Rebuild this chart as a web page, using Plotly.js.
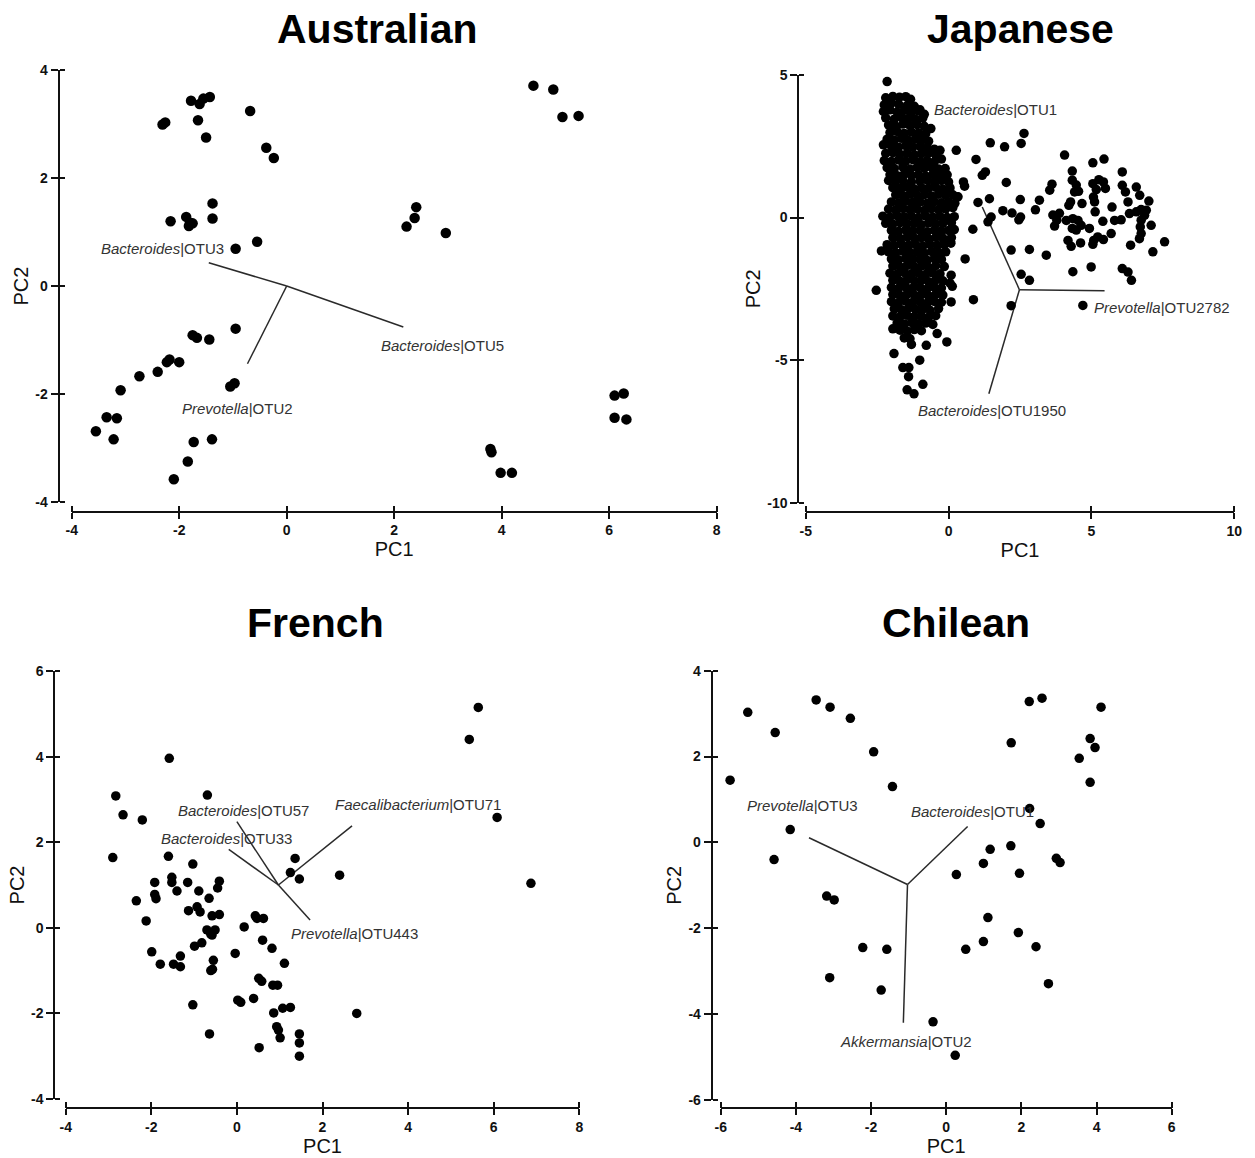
<!DOCTYPE html>
<html>
<head>
<meta charset="utf-8">
<script src="https://cdn.plot.ly/plotly-3.0.1.min.js"></script>
<style>html,body{margin:0;padding:0;background:#fff;}#chart{width:1255px;height:1158px;}</style>
</head>
<body>
<div id="chart"></div>
<script>
// ---------------- DATA ----------------
const panelTitles = ["Australian", "Japanese", "French", "Chilean"];

// tick labels
const auXTicks = ["-4", "-2", "0", "2", "4", "6", "8"];
const auYTicks = ["-4", "-2", "0", "2", "4"];
const jpXTicks = ["-5", "0", "5", "10"];
const jpYTicks = ["-10", "-5", "0", "5"];
const frXTicks = ["-4", "-2", "0", "2", "4", "6", "8"];
const frYTicks = ["-4", "-2", "0", "2", "4", "6"];
const clXTicks = ["-6", "-4", "-2", "0", "2", "4", "6"];
const clYTicks = ["-6", "-4", "-2", "0", "2", "4"];

// Australian
const auX = [-1.78,-1.62,-1.55,-1.43,-2.31,-2.26,-1.65,-1.5,-0.68,-0.38,-0.24,-1.38,-1.38,-2.16,-1.87,-1.8,-1.75,-1.82,-0.95,-0.55,
  -0.95,-1.75,-1.67,-1.44,-2.23,-2.18,-2.0,-2.4,-2.74,-3.09,-3.35,-3.16,-3.55,-3.22,-1.05,-0.97,-1.73,-1.39,-1.84,-2.1,
  4.59,4.96,5.13,5.43,2.41,2.38,2.23,2.96,6.1,6.27,6.1,6.32,3.79,3.81,3.98,4.19];
const auY = [3.43,3.37,3.47,3.5,2.99,3.03,3.07,2.75,3.24,2.56,2.37,1.53,1.25,1.2,1.28,1.17,1.16,1.11,0.69,0.82,
  -0.79,-0.91,-0.96,-0.99,-1.41,-1.36,-1.41,-1.59,-1.67,-1.93,-2.43,-2.45,-2.69,-2.84,-1.86,-1.8,-2.89,-2.84,-3.25,-3.58,
  3.71,3.64,3.13,3.15,1.46,1.26,1.10,0.98,-2.03,-1.99,-2.44,-2.47,-3.02,-3.08,-3.46,-3.46];
const auLoadNames = ["<i>Bacteroides</i>|OTU3", "<i>Bacteroides</i>|OTU5", "<i>Prevotella</i>|OTU2"];
const auLoadX = [-1.45, 2.17, -0.73];
const auLoadY = [0.43, -0.76, -1.44];
const auOrigin = [0, 0];
const auLabelX = [-1.13, 1.71, -1.99];
const auLabelY = [0.69, -1.1, -2.27];

// Japanese
const jpX = [
  -2.2,-1.95,-1.72,-1.5,-1.33,
  -2.25,-2.0,-1.75,-1.45,-1.2,-1.0,
  -2.28,-2.05,-1.8,-1.55,-1.3,-1.05,-0.85,
  -2.2,-1.9,-1.65,-1.4,-1.15,-0.9,
  -2.1,-1.85,-1.6,-1.35,-1.1,-0.85,-0.62,
  -2.05,-1.8,-1.55,-1.3,-1.05,-0.8,
  -2.15,-1.9,-1.65,-1.4,-1.15,-0.9,-0.7,
  -2.28,-2.0,-1.75,-1.5,-1.25,-1.0,-0.75,-0.5,
  -2.2,-1.95,-1.7,-1.45,-1.2,-0.95,-0.7,-0.45,-0.3,
  -2.25,-2.0,-1.75,-1.5,-1.25,-1.0,-0.75,-0.5,-0.25,
  -2.15,-1.9,-1.6,-1.35,-1.1,-0.85,-0.6,-0.35,-0.12,
  -2.05,-1.8,-1.55,-1.3,-1.05,-0.8,-0.55,-0.3,-0.05,
  -2.1,-1.85,-1.6,-1.3,-1.0,-0.75,-0.5,-0.25,0.0,
  -1.95,-1.7,-1.45,-1.2,-0.95,-0.7,-0.45,-0.2,0.05,
  -1.85,-1.6,-1.35,-1.1,-0.85,-0.6,-0.35,-0.1,0.15,0.3,
  -2.0,-1.75,-1.5,-1.25,-1.0,-0.75,-0.5,-0.25,0.0,0.22,
  -2.1,-1.85,-1.6,-1.35,-1.1,-0.85,-0.6,-0.35,-0.1,0.15,
  -2.3,-2.05,-1.8,-1.55,-1.3,-1.05,-0.8,-0.55,-0.3,-0.05,0.2,
  -2.2,-1.95,-1.7,-1.45,-1.2,-0.95,-0.7,-0.45,-0.2,0.1,
  -2.0,-1.75,-1.5,-1.25,-1.0,-0.75,-0.5,-0.25,0.0,0.2,
  -1.95,-1.7,-1.45,-1.2,-0.95,-0.7,-0.45,-0.2,0.1,
  -2.15,-1.9,-1.65,-1.4,-1.15,-0.9,-0.65,-0.4,-0.15,0.08,
  -2.35,-2.1,-1.85,-1.6,-1.35,-1.1,-0.85,-0.6,-0.35,-0.1,
  -2.0,-1.75,-1.5,-1.25,-1.0,-0.75,-0.5,-0.25,
  -1.95,-1.7,-1.45,-1.2,-0.95,-0.7,-0.45,-0.15,
  -2.05,-1.8,-1.55,-1.3,-1.05,-0.8,-0.55,-0.3,
  -1.95,-1.7,-1.45,-1.2,-0.95,-0.7,-0.45,-0.2,0.05,
  -2.0,-1.75,-1.5,-1.25,-1.0,-0.75,-0.5,-0.25,
  -1.95,-1.7,-1.45,-1.2,-0.95,-0.7,-0.45,-0.2,
  -2.0,-1.75,-1.5,-1.25,-1.0,-0.75,-0.5,-0.25,
  -1.9,-1.65,-1.4,-1.15,-0.9,-0.65,-0.35,
  -1.95,-1.7,-1.45,-1.2,-0.95,-0.7,-0.45,
  -1.8,-1.55,-1.3,-1.05,-0.8,-0.55,
  -1.95,-1.7,-1.45,-1.2,-0.95,
  -1.55,-1.35,-1.3,
  -2.15,-2.53,-0.4,-0.06,-0.78,-1.91,-1.01,-1.6,-1.39,-1.4,-0.9,-1.45,-1.21,
  0.27,0.96,0.52,0.56,0.33,1.03,0.85,1.38,1.49,0.58,0.09,0.13,0.09,0.87,0.07,
  2.64,2.54,1.46,1.96,1.29,1.18,2.02,1.43,2.51,3.18,3.54,3.62,1.9,2.22,3.04,2.46,2.52,2.19,2.83,3.42,2.54,2.83,2.19,4.7,
  4.06,5.05,5.44,4.33,6.08,4.33,4.47,4.41,4.27,4.21,4.55,5.05,5.26,5.42,5.49,5.17,5.07,5.11,4.67,6.08,6.19,6.28,6.57,6.69,7.01,
  6.33,6.57,6.74,6.92,6.86,6.74,7.09,6.71,6.74,6.68,5.72,6.04,5.81,5.69,6.37,7.56,7.15,5.13,5.4,3.65,3.88,3.79,3.71,4.12,4.35,
  4.53,4.64,4.47,4.33,4.93,4.18,4.29,4.62,5.08,5.22,5.42,5.05,4.35,4.99,6.08,6.28,6.4
];
const jpY = [
  4.2,4.25,4.22,4.24,4.15,
  3.95,4.02,3.98,3.93,3.9,3.78,
  3.72,3.78,3.7,3.76,3.68,3.74,3.62,
  3.5,3.45,3.52,3.48,3.44,3.5,
  3.25,3.2,3.28,3.22,3.26,3.2,3.12,
  2.98,3.02,2.95,3.0,2.97,2.94,
  2.75,2.72,2.78,2.7,2.76,2.73,2.68,
  2.55,2.5,2.47,2.52,2.48,2.5,2.45,2.4,
  2.25,2.28,2.22,2.26,2.2,2.24,2.27,2.2,2.36,
  2.0,1.97,2.02,1.98,2.03,1.96,2.0,1.95,2.05,
  1.75,1.72,1.78,1.7,1.76,1.73,1.77,1.7,1.72,
  1.5,1.47,1.52,1.48,1.5,1.45,1.52,1.47,1.5,
  1.3,1.27,1.3,1.25,1.28,1.32,1.26,1.3,1.25,
  1.05,1.02,1.07,1.0,1.05,1.03,1.06,1.0,1.04,
  0.8,0.77,0.82,0.78,0.8,0.76,0.82,0.78,0.8,0.72,
  0.55,0.52,0.57,0.53,0.55,0.5,0.56,0.52,0.55,0.5,
  0.3,0.27,0.32,0.28,0.3,0.25,0.31,0.28,0.3,0.35,
  0.05,0.02,0.07,0.03,0.05,0.0,0.06,0.02,0.05,0.0,0.03,
  -0.2,-0.23,-0.18,-0.22,-0.2,-0.25,-0.19,-0.22,-0.2,-0.18,
  -0.45,-0.48,-0.43,-0.47,-0.45,-0.5,-0.44,-0.47,-0.45,-0.42,
  -0.7,-0.73,-0.68,-0.72,-0.7,-0.75,-0.69,-0.72,-0.7,
  -0.95,-0.98,-0.93,-0.97,-0.95,-1.0,-0.94,-0.97,-0.95,-0.9,
  -1.17,-1.2,-1.23,-1.18,-1.22,-1.2,-1.25,-1.19,-1.22,-1.2,
  -1.45,-1.48,-1.43,-1.47,-1.45,-1.5,-1.44,-1.47,
  -1.7,-1.73,-1.68,-1.72,-1.7,-1.75,-1.69,-1.72,
  -1.95,-1.98,-1.93,-1.97,-1.95,-2.0,-1.94,-1.97,
  -2.2,-2.23,-2.18,-2.22,-2.2,-2.25,-2.19,-2.22,-2.3,
  -2.45,-2.48,-2.43,-2.47,-2.45,-2.5,-2.44,-2.47,
  -2.7,-2.73,-2.68,-2.72,-2.7,-2.75,-2.69,-2.72,
  -2.95,-2.98,-2.93,-2.97,-2.95,-3.0,-2.94,-2.97,
  -3.2,-3.23,-3.18,-3.22,-3.2,-3.25,-3.19,
  -3.45,-3.48,-3.43,-3.47,-3.45,-3.5,-3.44,
  -3.7,-3.73,-3.68,-3.72,-3.7,-3.75,
  -3.9,-3.95,-3.98,-3.93,-3.97,
  -4.22,-4.25,-4.45,
  4.77,-2.55,-4.07,-4.36,-4.48,-4.77,-5.0,-5.26,-5.26,-5.58,-5.85,-6.04,-6.18,
  2.36,2.04,1.25,1.1,0.73,0.53,-0.41,-0.15,0.02,-1.45,-2.02,-2.41,-2.96,-2.88,-0.85,
  2.95,2.6,2.62,2.48,1.6,1.48,1.23,0.66,0.63,0.61,0.96,1.17,0.24,0.16,0.27,-0.08,0.02,-1.14,-1.12,-1.32,-1.99,-2.2,-3.09,-3.08,
  2.19,1.92,2.05,1.63,1.6,1.31,1.14,0.9,0.55,0.43,0.92,1.19,1.33,1.25,1.02,0.98,0.72,0.55,0.49,1.13,0.9,0.55,1.07,0.78,0.58,
  0.14,0.2,0.28,0.26,0.08,-0.09,-0.27,-0.33,-0.56,-0.74,0.37,-0.08,-0.1,-0.56,-0.97,-0.85,-1.2,0.2,-0.13,0.09,0.15,-0.09,-0.3,-0.1,-0.04,
  -0.1,-0.27,-0.44,-0.38,-0.38,-0.8,-1.01,-0.89,-0.8,-0.68,-0.77,-0.94,-1.9,-1.73,-1.79,-1.91,-2.2
];
const jpLoadNames = ["<i>Bacteroides</i>|OTU1", "<i>Prevotella</i>|OTU2782", "<i>Bacteroides</i>|OTU1950"];
const jpLoadX = [1.18, 5.46, 1.41];
const jpLoadY = [0.37, -2.57, -6.18];
const jpOrigin = [2.48, -2.53];
const jpLabelX = [-0.57, 5.03, -1.13];
const jpLabelY = [3.79, -3.16, -6.78];

// French
const frX = [-1.58,-0.69,-2.83,-2.66,-2.21,-2.9,-1.6,-1.03,-1.92,-1.52,-1.52,-1.4,-1.15,-0.41,-0.45,-1.92,-1.89,-2.35,-0.89,-0.65,
  -1.13,-0.93,-0.86,-0.58,-0.41,-2.12,-1.99,-1.79,-1.48,-1.32,-1.32,-0.99,-0.82,-0.7,-0.61,-0.51,-0.58,-0.55,-0.61,-0.57,
  -1.03,-0.64,-0.04,0.17,0.43,0.47,0.62,0.6,0.82,1.11,0.51,0.58,0.84,0.95,0.02,0.09,0.39,0.86,1.07,1.25,
  0.93,0.97,1.01,0.52,1.46,1.46,1.46,1.25,1.36,1.46,2.4,2.8,5.64,5.43,6.08,6.87];
const frY = [3.96,3.10,3.08,2.64,2.52,1.64,1.67,1.49,1.06,1.18,1.06,0.86,1.06,1.09,0.93,0.78,0.68,0.63,0.86,0.69,
  0.40,0.49,0.37,0.28,0.31,0.16,-0.56,-0.85,-0.85,-0.66,-0.91,-0.43,-0.35,-0.05,-0.15,-0.05,-0.17,-0.76,-1.0,-0.97,
  -1.80,-2.48,-0.6,0.02,0.28,0.22,0.22,-0.29,-0.48,-0.83,-1.18,-1.25,-1.34,-1.34,-1.69,-1.74,-1.65,-1.99,-1.88,-1.86,
  -2.31,-2.39,-2.57,-2.8,-2.48,-2.69,-3.0,1.29,1.62,1.14,1.23,-2.0,5.15,4.40,2.58,1.04];
const frLoadNames = ["<i>Bacteroides</i>|OTU57", "<i>Bacteroides</i>|OTU33", "<i>Faecalibacterium</i>|OTU71", "<i>Prevotella</i>|OTU443"];
const frLoadX = [0.0, -0.19, 2.69, 1.71];
const frLoadY = [2.48, 1.83, 2.38, 0.18];
const frOrigin = [0.97, 1.0];
const frLabelX = [-1.43, -1.81, 2.24, 1.21];
const frLabelY = [2.73, 2.09, 2.87, -0.13];

// Chilean
const clX = [-5.75,-5.28,-4.55,-4.58,-4.15,-3.46,-3.09,-2.55,-1.93,-1.43,-3.18,-2.98,-2.22,-1.58,-3.1,-1.73,-0.35,0.24,
  0.27,0.52,0.99,1.17,1.72,1.95,1.11,0.99,1.92,2.39,2.72,2.22,2.5,2.93,3.03,1.73,2.21,2.55,3.54,3.83,3.96,3.83,4.12];
const clY = [1.45,3.03,2.56,-0.40,0.30,3.32,3.15,2.89,2.11,1.30,-1.25,-1.34,-2.45,-2.49,-3.15,-3.44,-4.18,-4.96,
  -0.75,-2.49,-0.49,-0.16,-0.08,-0.72,-1.75,-2.31,-2.10,-2.43,-3.29,0.79,0.44,-0.37,-0.47,2.32,3.28,3.36,1.96,2.42,2.21,1.40,3.15];
const clLoadNames = ["<i>Prevotella</i>|OTU3", "<i>Bacteroides</i>|OTU1", "<i>Akkermansia</i>|OTU2"];
const clLoadX = [-3.65, 0.57, -1.14];
const clLoadY = [0.11, 0.37, -4.2];
const clOrigin = [-1.03, -0.98];
const clLabelX = [-5.35, -1.0, -2.88];
const clLabelY = [0.85, 0.71, -4.64];

// ---------------- BUILD ----------------
const W = 1255, H = 1158;
const FONT = "'Liberation Sans', Arial, Helvetica, sans-serif";
const INK = "#111";

const panels = [
  {px: auX, py: auY, lx: auLoadX, ly: auLoadY, o: auOrigin, names: auLoadNames, tx: auLabelX, ty: auLabelY,
   xt: auXTicks, yt: auYTicks,
   xr: [-4, 8], yr: [-4, 4], xpix: [71.7, 716.7], ypix: [502, 70], yAxisPx: 58.5, xAxisPy: 511.5,
   msize: 10.5, title: panelTitles[0], tpos: [377, 29], anchors: ["right", "left", "left"]},
  {px: jpX, py: jpY, lx: jpLoadX, ly: jpLoadY, o: jpOrigin, names: jpLoadNames, tx: jpLabelX, ty: jpLabelY,
   xt: jpXTicks, yt: jpYTicks,
   xr: [-5, 10], yr: [-10, 5], xpix: [805.7, 1234.3], ypix: [502.7, 75], yAxisPx: 798.3, xAxisPy: 512.3,
   msize: 9.5, title: panelTitles[1], tpos: [1020, 29], anchors: ["left", "left", "left"]},
  {px: frX, py: frY, lx: frLoadX, ly: frLoadY, o: frOrigin, names: frLoadNames, tx: frLabelX, ty: frLabelY,
   xt: frXTicks, yt: frYTicks,
   xr: [-4, 8], yr: [-4, 6], xpix: [65.7, 579.3], ypix: [1099, 671], yAxisPx: 54.3, xAxisPy: 1108.3,
   msize: 9.5, title: panelTitles[2], tpos: [315, 623], anchors: ["left", "left", "left", "left"]},
  {px: clX, py: clY, lx: clLoadX, ly: clLoadY, o: clOrigin, names: clLoadNames, tx: clLabelX, ty: clLabelY,
   xt: clXTicks, yt: clYTicks,
   xr: [-6, 6], yr: [-6, 4], xpix: [720.7, 1171.7], ypix: [1100, 670.7], yAxisPx: 711.7, xAxisPy: 1107.7,
   msize: 9.5, title: panelTitles[3], tpos: [956, 623], anchors: ["left", "left", "left"]}
];

const traces = [];
const layout = {
  width: W, height: H, margin: {l: 0, r: 0, t: 0, b: 0},
  paper_bgcolor: "#fff", plot_bgcolor: "rgba(0,0,0,0)",
  showlegend: false, font: {family: FONT, color: INK},
  annotations: []
};

const bold = arr => arr.map(t => "<b>" + t + "</b>");
const EXT = 3; // px padding so end ticks of the inner-tick axes are not clipped

panels.forEach((p, i) => {
  const n = i + 1;
  const sfx = n === 1 ? "" : String(n);
  const on = i + 5;
  const xd = [p.xpix[0] / W, p.xpix[1] / W];
  const yd = [1 - p.ypix[0] / H, 1 - p.ypix[1] / H];
  const yPos = p.yAxisPx / W;
  const xPos = 1 - p.xAxisPy / H;
  const xv = p.xt.map(Number), yv = p.yt.map(Number);
  const tickFont = {family: FONT, size: 14, color: INK};
  layout["xaxis" + sfx] = {
    domain: xd, range: p.xr, anchor: "free", position: xPos,
    tickmode: "array", tickvals: xv, ticktext: bold(p.xt),
    ticks: "outside", ticklen: 6, tickwidth: 2, tickcolor: INK,
    showline: true, linewidth: 2, linecolor: INK, showgrid: false, zeroline: false,
    tickfont: tickFont, fixedrange: true,
    title: {text: "PC1", font: {family: FONT, size: 20, color: INK}, standoff: 4}
  };
  layout["yaxis" + sfx] = {
    domain: yd, range: p.yr, anchor: "free", position: yPos,
    tickmode: "array", tickvals: yv, ticktext: bold(p.yt),
    ticks: "outside", ticklen: 7, tickwidth: 2, tickcolor: INK,
    showline: true, linewidth: 2, linecolor: INK, showgrid: false, zeroline: false,
    tickfont: tickFont, fixedrange: true,
    title: {text: "PC2", font: {family: FONT, size: 20, color: INK}, standoff: 0}
  };
  // companion axes (same scale, slightly padded) that draw the inner half of the crossing tick marks
  const kx = (p.xpix[1] - p.xpix[0]) / (p.xr[1] - p.xr[0]);
  const ky = (p.ypix[0] - p.ypix[1]) / (p.yr[1] - p.yr[0]);
  layout["xaxis" + on] = {
    domain: [(p.xpix[0] - EXT) / W, (p.xpix[1] + EXT) / W],
    range: [p.xr[0] - EXT / kx, p.xr[1] + EXT / kx], anchor: "free", position: xPos,
    tickmode: "array", tickvals: xv,
    ticks: "inside", ticklen: 6, tickwidth: 2, tickcolor: INK,
    showticklabels: false, showline: false, showgrid: false, zeroline: false, fixedrange: true
  };
  layout["yaxis" + on] = {
    domain: [1 - (p.ypix[0] + EXT) / H, 1 - (p.ypix[1] - EXT) / H],
    range: [p.yr[0] - EXT / ky, p.yr[1] + EXT / ky], anchor: "free", position: yPos,
    tickmode: "array", tickvals: yv,
    ticks: "inside", ticklen: 5, tickwidth: 2, tickcolor: INK,
    showticklabels: false, showline: false, showgrid: false, zeroline: false, fixedrange: true
  };
  traces.push({type: "scatter", x: [], y: [], xaxis: "x" + on, yaxis: "y" + on, hoverinfo: "skip", showlegend: false});

  // loading lines
  const lx = [], ly = [];
  p.lx.forEach((v, k) => { lx.push(p.o[0], v, null); ly.push(p.o[1], p.ly[k], null); });
  traces.push({type: "scatter", mode: "lines", x: lx, y: ly, xaxis: "x" + sfx, yaxis: "y" + sfx,
    line: {color: "#2a2a2a", width: 1.5}, hoverinfo: "skip", showlegend: false, cliponaxis: false});

  // points
  traces.push({type: "scatter", mode: "markers", x: p.px, y: p.py, xaxis: "x" + sfx, yaxis: "y" + sfx,
    marker: {color: "#000", size: p.msize, line: {width: 0}}, showlegend: false, cliponaxis: false});

  // loading labels
  p.names.forEach((t, k) => {
    layout.annotations.push({
      xref: "x" + sfx, yref: "y" + sfx, x: p.tx[k], y: p.ty[k], text: t, showarrow: false,
      xanchor: p.anchors[k], yanchor: "middle",
      font: {family: FONT, size: 15, color: "#333"}
    });
  });

  // panel title
  layout.annotations.push({
    xref: "paper", yref: "paper", x: p.tpos[0] / W, y: 1 - p.tpos[1] / H, text: "<b>" + p.title + "</b>",
    showarrow: false, xanchor: "center", yanchor: "middle",
    font: {family: FONT, size: 41, color: "#000"}
  });
});

Plotly.newPlot("chart", traces, layout, {staticPlot: true, displayModeBar: false});
</script>
</body>
</html>
